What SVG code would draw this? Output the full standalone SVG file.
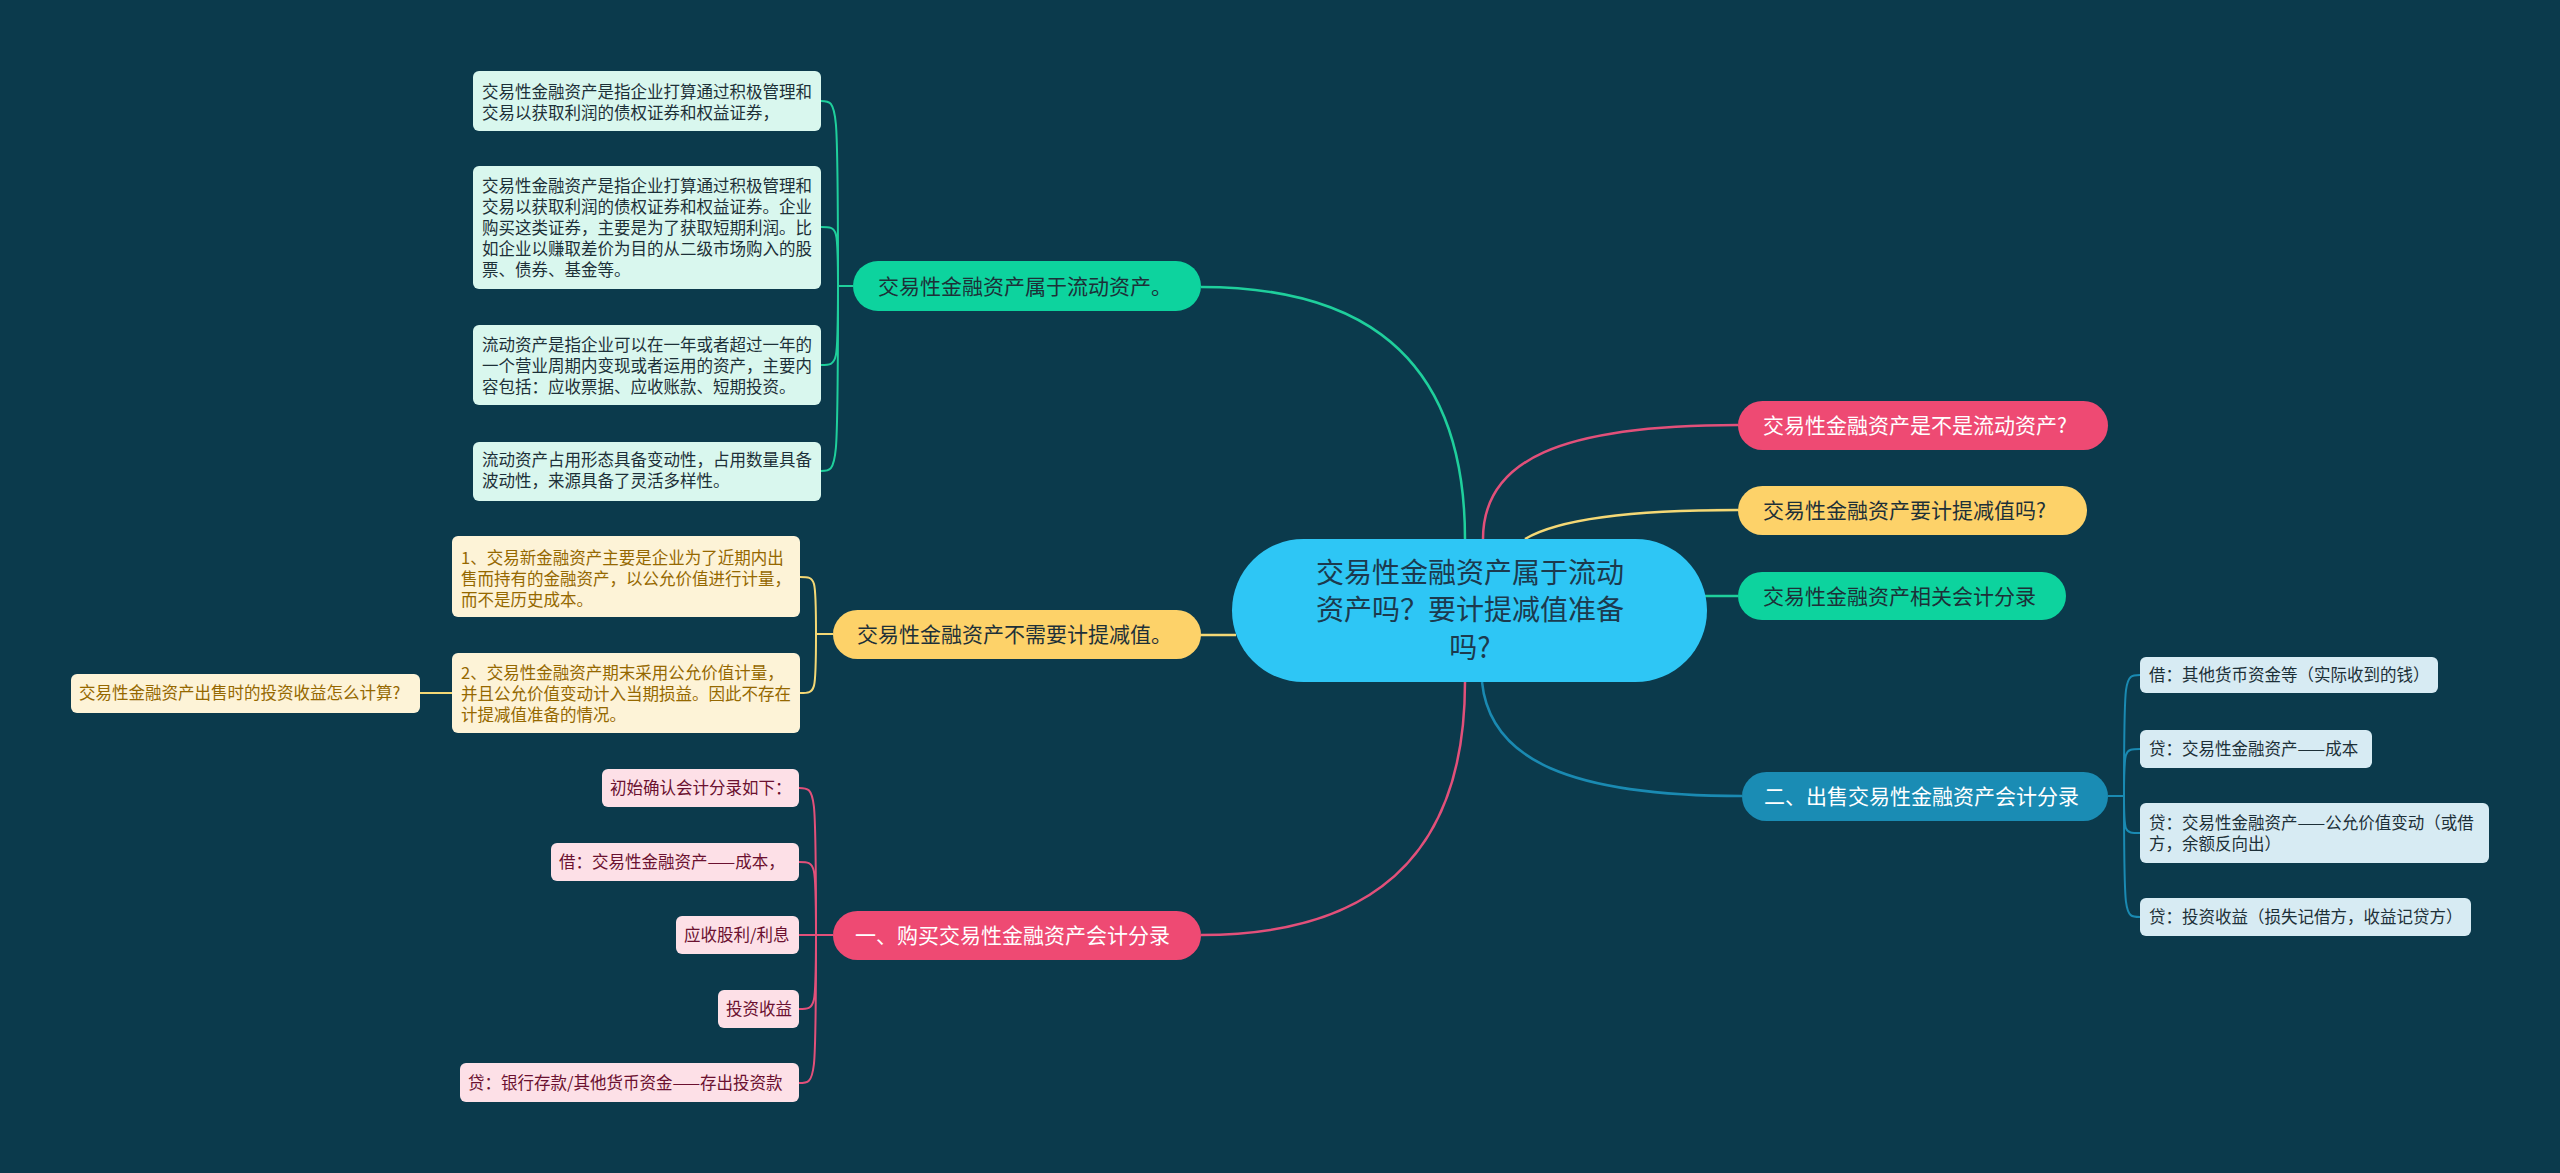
<svg xmlns="http://www.w3.org/2000/svg" width="2560" height="1173" viewBox="0 0 2560 1173">
<style>
text{font-family:"Noto Sans CJK SC","Noto Sans",sans-serif;}
.c{font-size:28px;fill:#1c3a4e;text-anchor:middle;}
.l1{font-size:21px;}
.lf{font-size:16.5px;}
.dk{fill:#1d3038;}
.wt{fill:#ffffff;}
.gy{fill:#956800;}
.pk{fill:#6b1130;}
.gl{fill:#d9f7ee;}
.yl{fill:#fdf3d7;}
.pl{fill:#fde0e7;}
.bl{fill:#d7ebf3;}
.ln{fill:none;stroke-width:2.5;}
.br{fill:none;stroke-width:2;}
</style>
<rect width="2560" height="1173" fill="#0b3a4c"/>
<g id="connectors">
<path class="ln" stroke="#1fcf9c" d="M1465 539 C1465 330 1330 287 1201 287"/>
<path class="ln" stroke="#e2507a" d="M1483 539 C1483 460 1560 425 1738 425"/>
<path class="ln" stroke="#f4d875" d="M1525 539 C1560 518 1640 510 1738 510"/>
<path class="ln" stroke="#1fcf9c" d="M1700 596 L1738 596"/>
<path class="ln" stroke="#1a8ab2" d="M1482 682 C1490 760 1570 796 1742 796"/>
<path class="ln" stroke="#e2507a" d="M1465 682 C1465 891 1330 935 1201 935"/>
<path class="ln" stroke="#f4d875" d="M1236 635 L1200 635"/>
<g stroke="#1fcf9c">
<path class="br" d="M853 286 L838 286"/>
<path class="br" d="M838 286 C838 101 838 101 821 101"/>
<path class="br" d="M838 286 C838 227 838 227 821 227"/>
<path class="br" d="M838 286 C838 365 838 365 821 365"/>
<path class="br" d="M838 286 C838 471 838 471 821 471"/>
</g>
<g stroke="#f4d875">
<path class="br" d="M833 634 L816 634"/>
<path class="br" d="M816 634 C816 577 816 577 800 577"/>
<path class="br" d="M816 634 C816 693 816 693 800 693"/>
<path class="br" d="M452 693 L420 693"/>
</g>
<g stroke="#e2507a">
<path class="br" d="M833 935 L816 935"/>
<path class="br" d="M816 935 C816 788 816 788 799 788"/>
<path class="br" d="M816 935 C816 862 816 862 799 862"/>
<path class="br" d="M816 935 L799 935"/>
<path class="br" d="M816 935 C816 1009 816 1009 799 1009"/>
<path class="br" d="M816 935 C816 1083 816 1083 799 1083"/>
</g>
<g stroke="#1a8ab2">
<path class="br" d="M2108 796 L2124 796"/>
<path class="br" d="M2124 796 C2124 675 2124 675 2140 675"/>
<path class="br" d="M2124 796 C2124 749 2124 749 2140 749"/>
<path class="br" d="M2124 796 C2124 833 2124 833 2140 833"/>
<path class="br" d="M2124 796 C2124 917 2124 917 2140 917"/>
</g>
</g>
<g id="center">
<rect x="1232" y="539" width="475" height="143" rx="71.5" fill="#2ec6f5"/>
<text class="c" x="1470" y="583">交易性金融资产属于流动</text>
<text class="c" x="1470" y="620">资产吗？要计提减值准备</text>
<text class="c" x="1470" y="658">吗?</text>
</g>
<g id="n-green1">
<rect x="853" y="261" width="348" height="50" rx="25" fill="#0dd39e"/>
<text class="l1 dk" x="878" y="293.5">交易性金融资产属于流动资产。</text>
</g>
<g id="n-g-leaf1">
<rect class="gl" x="473" y="71" width="348" height="60" rx="6"/>
<text class="lf dk" x="482" y="97.5">交易性金融资产是指企业打算通过积极管理和</text>
<text class="lf dk" x="482" y="118.5">交易以获取利润的债权证券和权益证券，</text>
</g>
<g id="n-g-leaf2">
<rect class="gl" x="473" y="166" width="348" height="123" rx="6"/>
<text class="lf dk" x="482" y="192">交易性金融资产是指企业打算通过积极管理和</text>
<text class="lf dk" x="482" y="213">交易以获取利润的债权证券和权益证券。企业</text>
<text class="lf dk" x="482" y="234">购买这类证券，主要是为了获取短期利润。比</text>
<text class="lf dk" x="482" y="255">如企业以赚取差价为目的从二级市场购入的股</text>
<text class="lf dk" x="482" y="276">票、债券、基金等。</text>
</g>
<g id="n-g-leaf3">
<rect class="gl" x="473" y="325" width="348" height="80" rx="6"/>
<text class="lf dk" x="482" y="351">流动资产是指企业可以在一年或者超过一年的</text>
<text class="lf dk" x="482" y="372">一个营业周期内变现或者运用的资产，主要内</text>
<text class="lf dk" x="482" y="393">容包括：应收票据、应收账款、短期投资。</text>
</g>
<g id="n-g-leaf4">
<rect class="gl" x="473" y="442" width="348" height="59" rx="6"/>
<text class="lf dk" x="482" y="466">流动资产占用形态具备变动性，占用数量具备</text>
<text class="lf dk" x="482" y="487">波动性，来源具备了灵活多样性。</text>
</g>
<g id="n-yellow1">
<rect x="833" y="610" width="368" height="49" rx="24.5" fill="#fdd269"/>
<text class="l1 dk" x="857" y="642">交易性金融资产不需要计提减值。</text>
</g>
<g id="n-y-leaf1">
<rect class="yl" x="452" y="536" width="348" height="81" rx="6"/>
<text class="lf gy" x="461" y="563.5">1、交易新金融资产主要是企业为了近期内出</text>
<text class="lf gy" x="461" y="584.5">售而持有的金融资产，以公允价值进行计量，</text>
<text class="lf gy" x="461" y="605.5">而不是历史成本。</text>
</g>
<g id="n-y-leaf2">
<rect class="yl" x="452" y="653" width="348" height="80" rx="6"/>
<text class="lf gy" x="461" y="679">2、交易性金融资产期末采用公允价值计量，</text>
<text class="lf gy" x="461" y="700">并且公允价值变动计入当期损益。因此不存在</text>
<text class="lf gy" x="461" y="721">计提减值准备的情况。</text>
</g>
<g id="n-y-leaf3">
<rect class="yl" x="71" y="674" width="349" height="39" rx="6"/>
<text class="lf gy" x="79" y="699">交易性金融资产出售时的投资收益怎么计算?</text>
</g>
<g id="n-pink1">
<rect x="833" y="911" width="368" height="49" rx="24.5" fill="#ee4a73"/>
<text class="l1 wt" x="855" y="943">一、购买交易性金融资产会计分录</text>
</g>
<g id="n-p-leaf1">
<rect class="pl" x="602" y="769" width="197" height="38" rx="6"/>
<text class="lf pk" x="610" y="794">初始确认会计分录如下：</text>
</g>
<g id="n-p-leaf2">
<rect class="pl" x="551" y="843" width="248" height="38" rx="6"/>
<text class="lf pk" x="559" y="868">借：交易性金融资产——成本，</text>
</g>
<g id="n-p-leaf3">
<rect class="pl" x="676" y="916" width="123" height="38" rx="6"/>
<text class="lf pk" x="684" y="941">应收股利/利息</text>
</g>
<g id="n-p-leaf4">
<rect class="pl" x="718" y="990" width="81" height="38" rx="6"/>
<text class="lf pk" x="726" y="1015">投资收益</text>
</g>
<g id="n-p-leaf5">
<rect class="pl" x="460" y="1063" width="339" height="39" rx="6"/>
<text class="lf pk" x="468" y="1089">贷：银行存款/其他货币资金——存出投资款</text>
</g>
<g id="n-r-pink">
<rect x="1738" y="401" width="370" height="49" rx="24.5" fill="#ee4a73"/>
<text class="l1 wt" x="1763" y="433">交易性金融资产是不是流动资产?</text>
</g>
<g id="n-r-yellow">
<rect x="1738" y="486" width="349" height="49" rx="24.5" fill="#fdd269"/>
<text class="l1 dk" x="1763" y="518">交易性金融资产要计提减值吗?</text>
</g>
<g id="n-r-green">
<rect x="1738" y="572" width="328" height="48" rx="24" fill="#0dd39e"/>
<text class="l1 dk" x="1763" y="603.5">交易性金融资产相关会计分录</text>
</g>
<g id="n-blue1">
<rect x="1742" y="772" width="366" height="49" rx="24.5" fill="#1a8cb4"/>
<text class="l1 wt" x="1764" y="804">二、出售交易性金融资产会计分录</text>
</g>
<g id="n-b-leaf1">
<rect class="bl" x="2140" y="657" width="298" height="36" rx="6"/>
<text class="lf dk" x="2149" y="681">借：其他货币资金等（实际收到的钱）</text>
</g>
<g id="n-b-leaf2">
<rect class="bl" x="2140" y="730" width="232" height="38" rx="6"/>
<text class="lf dk" x="2149" y="755">贷：交易性金融资产——成本</text>
</g>
<g id="n-b-leaf3">
<rect class="bl" x="2140" y="803" width="349" height="60" rx="6"/>
<text class="lf dk" x="2149" y="829">贷：交易性金融资产——公允价值变动（或借</text>
<text class="lf dk" x="2149" y="850">方，余额反向出）</text>
</g>
<g id="n-b-leaf4">
<rect class="bl" x="2140" y="898" width="331" height="38" rx="6"/>
<text class="lf dk" x="2149" y="923">贷：投资收益（损失记借方，收益记贷方）</text>
</g>
</svg>
